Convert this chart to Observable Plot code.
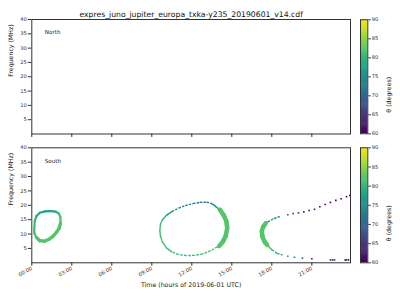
<!DOCTYPE html>
<html><head><meta charset="utf-8">
<script src="https://cdn.jsdelivr.net/npm/d3@7"></script>
<script src="https://cdn.jsdelivr.net/npm/@observablehq/plot@0.6"></script>
<style>
body{margin:0;background:#fff;}
#chart{position:relative;width:400px;height:300px;overflow:hidden;background:#fff;}
#chart svg{position:absolute;}
</style></head><body><div id="chart"></div>
<script>
const title = "expres_juno_jupiter_europa_txka-y235_20190601_v14.cdf";
const hemispheres = ["North", "South"];
const xLabel = "Time (hours of 2019-06-01 UTC)";
const yLabel = "Frequency (MHz)";
const cLabel = "θ (degrees)";
const timeTicks = [0, 3, 6, 9, 12, 15, 18, 21];
const timeTickLabels = ["00:00", "03:00", "06:00", "09:00", "12:00", "15:00", "18:00", "21:00"];
const freqTicks = [5, 10, 15, 20, 25, 30, 35, 40];
const thetaTicks = [60, 65, 70, 75, 80, 85, 90];

// South: loop 1
const t1 = [0.18, 0.22, 0.35, 0.6, 1.0, 1.45, 1.8, 2.03, 2.15, 2.15, 2.05, 1.85, 1.6, 1.3, 0.95, 0.6, 0.35, 0.2, 0.18];
const f1 = [11.5, 14.5, 16.3, 17.4, 17.9, 18.0, 17.8, 17.1, 15.8, 13.8, 12.0, 10.6, 9.3, 8.2, 7.5, 7.7, 8.8, 10.2, 11.5];
const th1 = [81, 80, 79, 78, 77, 77, 78, 80, 81, 82, 82, 82, 82, 82, 82, 82, 82, 81, 81];
// South: loop 2
const t2 = [9.6, 9.65, 9.8, 10.1, 10.5, 11.0, 11.5, 12.1, 12.6, 13.1, 13.5, 13.9, 14.3, 14.6, 14.65, 14.55, 14.3, 13.9, 13.4, 12.8, 12.2, 11.6, 11.0, 10.5, 10.1, 9.8, 9.65, 9.6];
const f2 = [11.2, 13.5, 15.0, 16.5, 17.8, 19.0, 19.9, 20.6, 21.0, 21.1, 20.6, 19.2, 17.0, 14.5, 12.0, 9.5, 7.3, 5.5, 4.2, 3.1, 2.6, 2.5, 2.9, 3.8, 5.2, 7.2, 9.3, 11.2];
const th2 = [81, 81, 80, 77, 76, 75, 74, 72, 71, 71, 73, 77, 81, 82, 82, 82, 82, 82, 81, 81, 80, 80, 80, 80, 81, 81, 81, 81];
// South: loop 3 (continuous part)
const t3 = [18.6, 18.1, 17.7, 17.4, 17.25, 17.3, 17.45, 17.7, 18.0, 18.4, 18.8];
const f3 = [16.1, 15.3, 14.2, 12.8, 11.0, 9.0, 7.4, 5.9, 4.5, 3.3, 2.7];
const th3 = [73, 76, 78, 81, 82, 82, 82, 81, 80, 78, 76];
// South: sparse points
const td = [19.2, 19.6, 20.0, 20.4, 20.8, 21.2, 21.6, 22.0, 22.4, 22.8, 23.2, 23.6, 23.85, 19.2, 19.7, 20.3, 21.0, 22.4, 22.55, 22.7, 23.5, 23.6, 23.75];
const fd = [16.7, 17.1, 17.4, 17.7, 18.2, 18.6, 19.5, 20.3, 21.0, 21.7, 22.3, 23.0, 23.4, 2.3, 1.9, 1.6, 1.4, 1.0, 1.0, 1.0, 1.0, 1.0, 1.0];
const thd = [68, 66, 63, 62, 61, 61, 60, 60, 60, 60, 60, 60, 60, 74, 72, 68, 62, 61, 61, 61, 60, 60, 60];
// dense (thick) portions
const tk1 = [2.15, 2.05, 1.85, 1.6, 1.3, 0.95, 0.6, 0.35];
const fk1 = [13.8, 12.0, 10.6, 9.3, 8.2, 7.5, 7.7, 8.8];
const tk2 = [14.1, 14.4, 14.6, 14.65, 14.55, 14.35, 14.05];
const fk2 = [18.5, 16.5, 14.3, 12.0, 9.5, 7.5, 5.8];
const tk3 = [17.55, 17.35, 17.25, 17.3, 17.45, 17.65];
const fk3 = [13.8, 12.5, 11.0, 9.0, 7.4, 6.2];
const thk = 82;

const font = "DejaVu Sans";
const ink = "#333";
const color = {type: "linear", scheme: "viridis", domain: [60, 90]};

function pairs(t, f, th) {
  return t.slice(1).map((_, i) => ({t1: t[i], f1: f[i], t2: t[i + 1], f2: f[i + 1], th: Array.isArray(th) ? (th[i] + th[i + 1]) / 2 : th}));
}
function seg(data, w, dash) {
  return Plot.link(data, {x1: "t1", y1: "f1", x2: "t2", y2: "f2", stroke: "th", strokeWidth: w,
    strokeLinecap: dash ? "butt" : "round", strokeDasharray: dash});
}
// sparse (gappy) stretches of loop 2 and loop 3: near-horizontal parts
const gappy = d => Math.abs(d.f2 - d.f1) < 1.6 * Math.abs(d.t2 - d.t1) * 2;

function panel(name, top, height, mt, mb, bottom) {
  const marks = [
    Plot.frame({stroke: ink}),
    Plot.text([name], {text: d => d, frameAnchor: "top-left", dx: 13, dy: 10.8, textAnchor: "start", fontSize: 5.6, fill: "#222"}),
    Plot.text([yLabel], {text: d => d, frameAnchor: "left", rotate: -90, dx: -21, fontSize: 6.25, fill: "#222"})
  ];
  if (!bottom) {
    marks.push(Plot.text([title], {text: d => d, frameAnchor: "top", dy: -8, fontSize: 7.7, fill: "#111"}));
  } else {
    const p2 = pairs(t2, f2, th2), p3 = pairs(t3, f3, th3);
    marks.push(
      seg(pairs(t1, f1, th1), 2.2),
      seg(pairs(tk1, fk1, thk), 3.4),
      seg(p2.filter(d => !gappy(d)), 1.4),
      seg(p2.filter(gappy), 1.4, "2.5,1.2"),
      seg(pairs(tk2, fk2, thk), 4.5),
      seg(p3.filter(d => !gappy(d)), 1.4),
      seg(p3.filter(gappy), 1.4, "2.5,1.2"),
      seg(pairs(tk3, fk3, thk), 4.5),
      Plot.dot(td.map((t, i) => ({t, f: fd[i], th: thd[i]})), {x: "t", y: "f", fill: "th", r: 0.9, symbol: "square"}),
      Plot.text([xLabel], {text: d => d, frameAnchor: "bottom", dy: 24, fontSize: 6.25, fill: "#222"})
    );
  }
  const svg = Plot.plot({
    width: 350, height,
    marginTop: mt, marginBottom: mb, marginLeft: 31.3, marginRight: 0,
    style: {fontFamily: font, fontSize: "5.2px", color: ink, background: "transparent", overflow: "visible"},
    x: {domain: [0, 23.9], ticks: timeTicks, tickSize: 3.5, tickPadding: 1.5,
        tickFormat: bottom ? (d => timeTickLabels[timeTicks.indexOf(d)]) : (() => ""),
        tickRotate: bottom ? -30 : 0, label: null},
    y: {domain: [0, 40], ticks: freqTicks, tickSize: 3.5, tickPadding: 1.5, label: null},
    color,
    marks
  });
  svg.style.left = "0px";
  svg.style.top = top + "px";
  return svg;
}

function colorbar(top, height, mt, mb) {
  const step = 0.25;
  const ramp = d3.range(60, 90, step);
  const svg = Plot.plot({
    width: 50, height,
    marginTop: mt, marginBottom: mb, marginLeft: 10, marginRight: 32.7,
    style: {fontFamily: font, fontSize: "5.2px", color: ink, background: "transparent", overflow: "visible"},
    x: {axis: null, domain: [0, 1]},
    y: {domain: [60, 90], ticks: thetaTicks, axis: "right", tickSize: 2.5, tickPadding: 1.5, label: null},
    color,
    marks: [
      Plot.rect(ramp, {x1: () => 0, x2: () => 1, y1: d => d, y2: d => Math.min(90, d + step * 1.6), fill: d => d}),
      Plot.frame({stroke: ink}),
      Plot.text([cLabel], {text: d => d, frameAnchor: "right", rotate: -90, dx: 21, fontSize: 6.25, fill: "#222"})
    ]
  });
  svg.style.left = "350px";
  svg.style.top = top + "px";
  return svg;
}

const chart = document.getElementById("chart");
chart.appendChild(panel(hemispheres[0], 0, 140, 19, 6.5, false));
chart.appendChild(panel(hemispheres[1], 140, 160, 7.3, 37.7, true));
chart.appendChild(colorbar(0, 140, 19.3, 6.7));
chart.appendChild(colorbar(140, 160, 7.3, 37.7));
</script></body></html>
